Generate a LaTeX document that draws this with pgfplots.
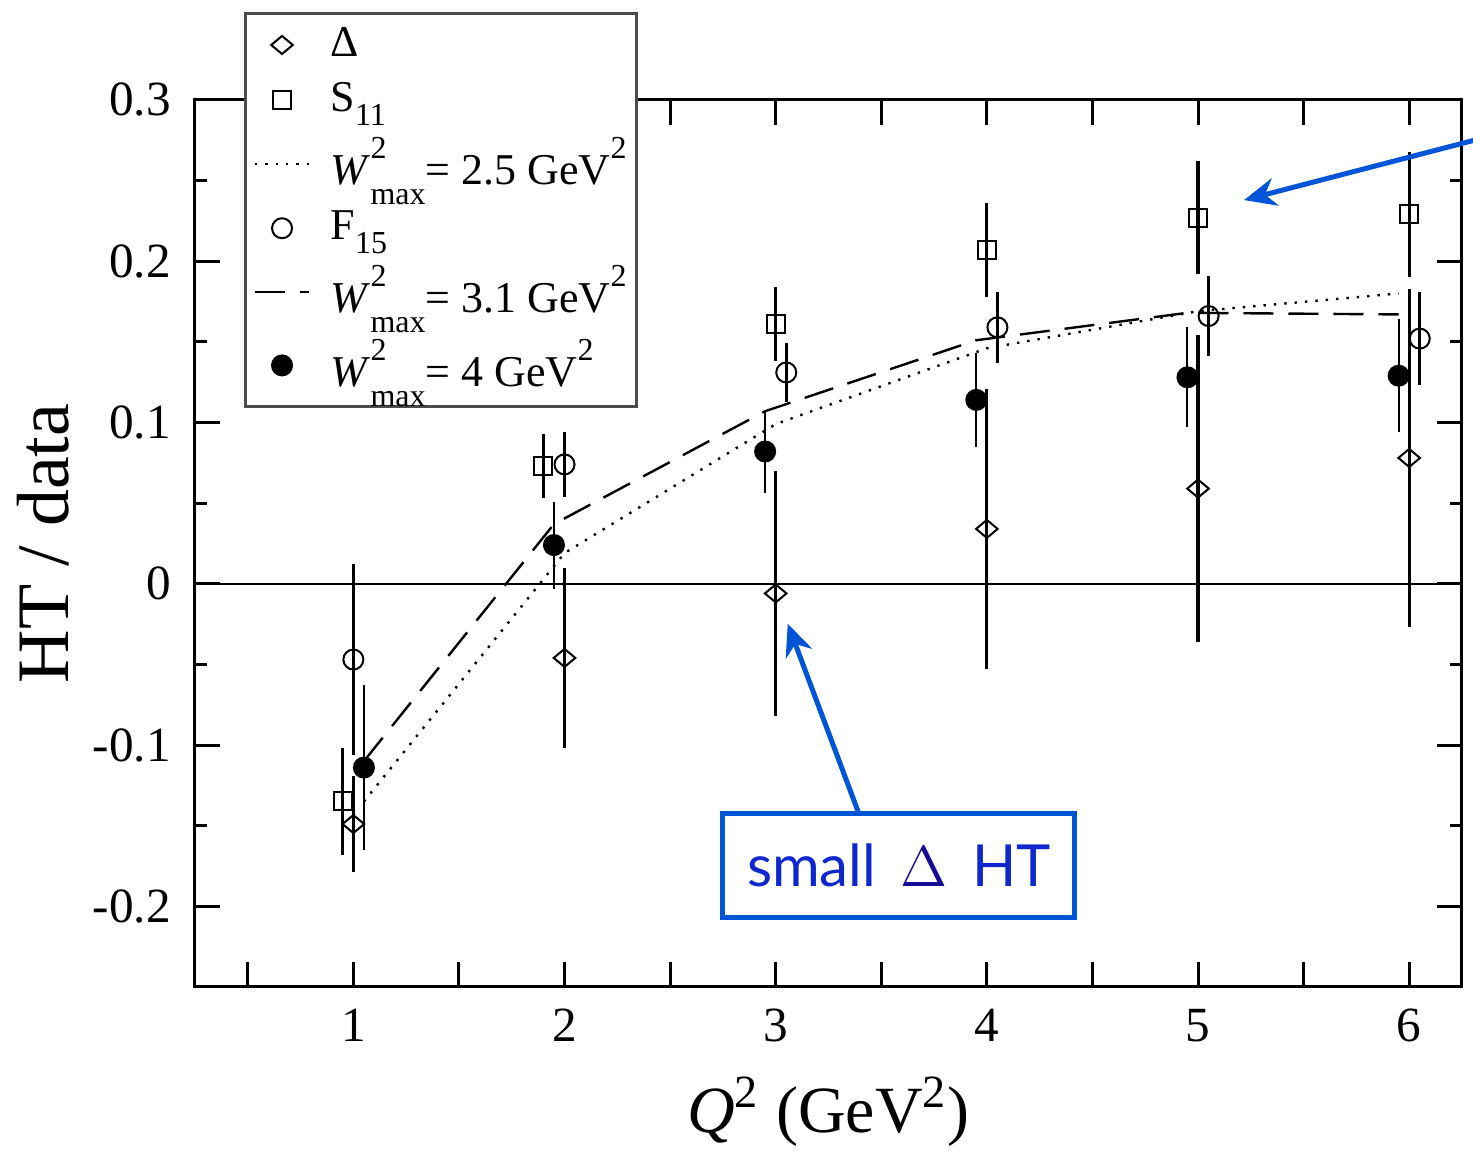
\documentclass[border=0pt]{standalone}
\usepackage{amsmath}
\usepackage{pgfplots}
\pgfplotsset{compat=1.18}
\usepackage{fontspec}
\setmainfont{Liberation Serif}
\newfontfamily\annfont{Lato}
\usetikzlibrary{arrows.meta}
\definecolor{annblue}{RGB}{0,85,215}
\definecolor{anntext}{RGB}{15,40,205}
\definecolor{deltablue}{RGB}{20,10,150}

\pgfplotstableread{
x y e
1.00 -0.149 0.030
2.00 -0.046 0.056
3.00 -0.006 0.076
4.00 0.034 0.087
5.00 0.059 0.095
6.00 0.078 0.105
}\deltatab
\pgfplotstableread{
x y e
0.95 -0.135 0.033
1.90 0.073 0.020
3.00 0.161 0.023
4.00 0.207 0.029
5.00 0.227 0.035
6.00 0.229 0.039
}\stab
\pgfplotstableread{
x y e
1.00 -0.047 0.059
2.00 0.074 0.020
3.05 0.131 0.018
4.05 0.159 0.022
5.05 0.166 0.025
6.05 0.152 0.029
}\ftab
\pgfplotstableread{
x y e
1.05 -0.114 0.051
1.95 0.024 0.027
2.95 0.082 0.026
3.95 0.114 0.029
4.95 0.128 0.031
5.95 0.129 0.035
}\wtab
\pgfplotstableread{
x y
1.05 -0.135
2.00 0.019
3.00 0.099
4.00 0.146
5.00 0.169
5.95 0.180
}\dottab
\pgfplotstableread{
x y
1.05 -0.110
1.95 0.037
2.95 0.107
3.95 0.151
4.95 0.168
5.95 0.167
}\dashtab

\newcommand{\scr}{\fontsize{8}{9}\selectfont}
\newcommand{\Wmax}{\textit{W}\rlap{\raisebox{6.5pt}{\scr 2}}\raisebox{-5pt}{\scr max}}
\newcommand{\sqr}{\raisebox{6.5pt}{\scr 2}}
\newcommand{\lsub}[1]{\raisebox{-3.5pt}{\scr #1}}

\begin{document}
\begin{tikzpicture}
\begin{axis}[
  scale only axis, width=316.75pt, height=221.75pt,
  xmin=0.25, xmax=6.25, ymin=-0.25, ymax=0.3,
  clip=false,
  axis line style={line width=0.75pt},
  xtick={1,2,3,4,5,6},
  extra x ticks={0.5,1.5,2.5,3.5,4.5,5.5}, extra x tick labels={},
  ytick={-0.2,-0.1,0,0.1,0.2,0.3},
  yticklabels={-0.2,-0.1,0,0.1,0.2,0.3},
  minor ytick={-0.25,-0.15,-0.05,0.05,0.15,0.25},
  xtick pos=both, ytick pos=both,
  tick align=inside,
  major tick length=6.25pt, minor tick length=3pt,
  every tick/.style={black, line width=0.75pt},
  tick label style={font=\fontsize{12.3}{14}\selectfont},
  xticklabel style={yshift=-2pt},
  yticklabel style={xshift=-2.5pt},
  /pgf/number format/assume math mode=true,
  xlabel={\textit{Q}$^{\textrm{2}}$ (GeV$^{\textrm{2}}$)},
  xlabel style={at={(axis description cs:0.5,-0.1646)}, anchor=base, font=\fontsize{16.5}{18}\selectfont},
  ylabel={HT / data},
  ylabel style={at={(axis description cs:-0.1002,0.5)}, anchor=base, font=\fontsize{18.5}{20}\selectfont},
  legend image code/.code={\draw[mark repeat=2,mark phase=2] plot coordinates {(0cm,0cm) (0.24cm,0cm) (0.48cm,0cm)};},
  legend cell align=left,
  legend style={at={(rel axis cs:0.0387,1.0992)}, anchor=north west, draw=black!70, line width=0.75pt, fill=white,
    font=\fontsize{11}{13}\selectfont, inner xsep=2pt, inner ysep=3pt, row sep=4pt, column sep=4.5pt,
    nodes={inner sep=0.5pt}},
]
\coordinate (bl) at (rel axis cs:-0.1539,-0.2029);
\coordinate (tr) at (rel axis cs:1.00868,1.1127);
\draw[black, line width=0.6pt] (axis cs:0.25,0) -- (axis cs:6.25,0);

\addplot[only marks, mark=diamond, mark size=2.25pt, mark options={fill=white, line width=0.5pt, xscale=1.6},
  error bars/.cd, y dir=both, y explicit, error mark=none, error bar style={line width=0.8pt, black}]
  table[x=x, y=y, y error=e] {\deltatab};
\addlegendentry{Δ}
\addplot[only marks, mark=square, mark size=2.25pt, mark options={fill=white, line width=0.5pt},
  error bars/.cd, y dir=both, y explicit, error mark=none, error bar style={line width=0.8pt, black}]
  table[x=x, y=y, y error=e] {\stab};
\addlegendentry{S\lsub{11}}
\addplot[black, line width=0.6pt, dash pattern=on 0.6pt off 2pt, no marks] table[x=x, y=y] {\dottab};
\addlegendentry{\Wmax= 2.5 GeV\sqr}
\addplot[only marks, mark=o, mark size=2.5pt, mark options={fill=white, line width=0.5pt},
  error bars/.cd, y dir=both, y explicit, error mark=none, error bar style={line width=0.8pt, black}]
  table[x=x, y=y, y error=e] {\ftab};
\addlegendentry{F\lsub{15}}
\addplot[black, line width=0.6pt, dash pattern=on 7.5pt off 3.75pt, no marks] table[x=x, y=y] {\dashtab};
\addlegendentry{\Wmax= 3.1 GeV\sqr}
\addplot[only marks, mark=*, mark size=2.5pt, mark options={fill=black, line width=0.5pt},
  error bars/.cd, y dir=both, y explicit, error mark=none, error bar style={line width=0.5pt, black}]
  table[x=x, y=y, y error=e] {\wtab};
\addlegendentry{\Wmax= 4 GeV\sqr}

\draw[annblue, line width=1.25pt, -{Stealth[length=8pt, width=7pt]}] (axis cs:3.393,-0.1422) -- (axis cs:3.057,-0.0248);
\draw[annblue, line width=1.25pt, -{Stealth[length=8pt, width=7pt]}] (axis cs:6.531,0.2826) -- (axis cs:5.218,0.2379);
\node[draw=annblue, line width=1.25pt, fill=white, minimum width=88pt, minimum height=26pt, inner sep=0pt,
  font=\annfont\fontsize{14.5}{16}\selectfont, text=anntext] at (axis cs:3.583,-0.1745) {small\, {\color{deltablue}$\Delta$}\, HT};
\end{axis}
\pgfresetboundingbox
\useasboundingbox (bl) rectangle (tr);
\end{tikzpicture}
\end{document}
